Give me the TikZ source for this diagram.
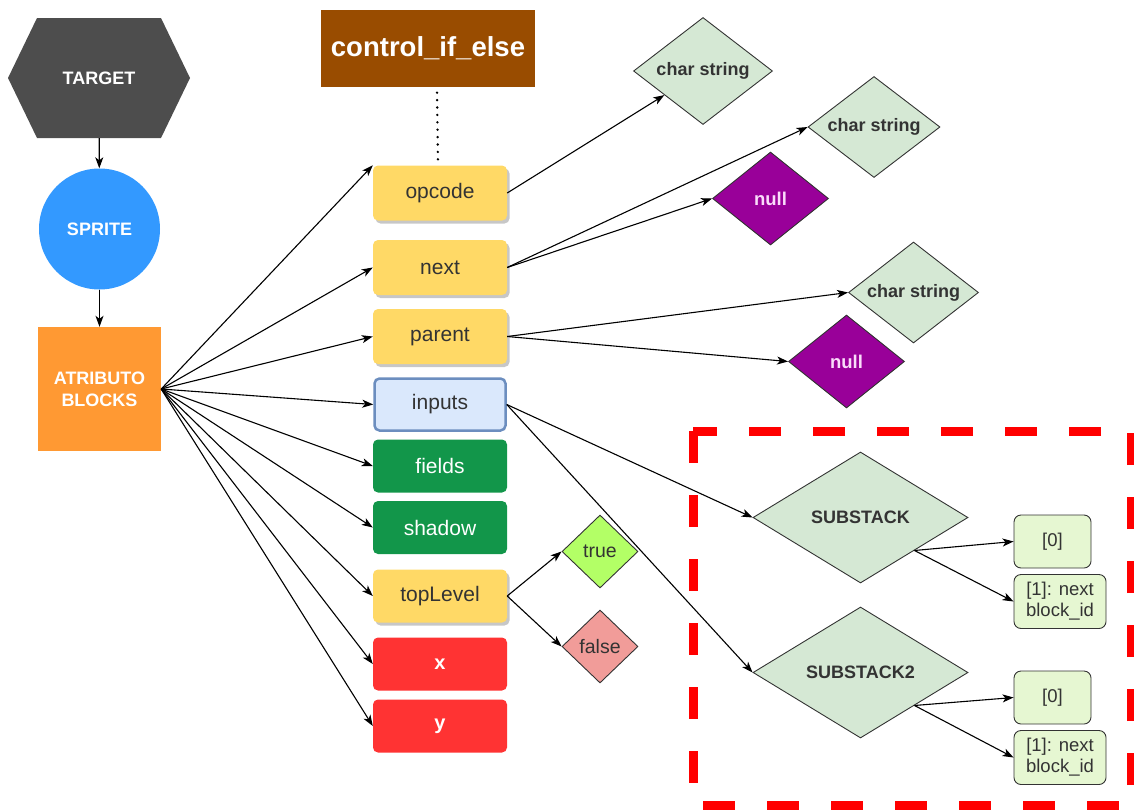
\documentclass[tikz,border=0pt]{standalone}
\usepackage{fontspec}
\setmainfont{Liberation Sans}
\usetikzlibrary{shapes.geometric,arrows.meta,shadows,calc}

\definecolor{hexfill}{HTML}{4D4D4D}
\definecolor{spriteblue}{HTML}{3399FF}
\definecolor{attrorange}{HTML}{FF9933}
\definecolor{ctrlbrown}{HTML}{994C00}
\definecolor{ylw}{HTML}{FFD966}
\definecolor{bluefill}{HTML}{DAE8FC}
\definecolor{bluedraw}{HTML}{6C8EBF}
\definecolor{grn}{HTML}{12964A}
\definecolor{redbox}{HTML}{FF3333}
\definecolor{sage}{HTML}{D5E8D4}
\definecolor{purp}{HTML}{990099}
\definecolor{nulltext}{HTML}{FADCFA}
\definecolor{lime}{HTML}{B3FF66}
\definecolor{rose}{HTML}{F19C99}
\definecolor{leaffill}{HTML}{E6F7D2}
\definecolor{edge}{HTML}{333333}
\definecolor{txt}{HTML}{333333}
\definecolor{dashred}{HTML}{FF0000}

\tikzset{
  field/.style={rectangle, rounded corners=5pt, minimum width=134pt,
    minimum height=53pt, inner sep=0pt, font=\fontsize{21}{25}\selectfont},
  yellowbox/.style={field, fill=ylw, text=txt,
    drop shadow={shadow xshift=2.5pt, shadow yshift=-3pt, fill=black, opacity=0.22}},
  greenbox/.style={field, fill=grn, text=white},
  redfield/.style={field, fill=redbox, text=white, font=\fontsize{20}{24}\selectfont\bfseries},
  bluebox/.style={field, fill=bluefill, draw=bluedraw, line width=2.5pt, text=txt},
  dia/.style={diamond, aspect=1.5, inner sep=0pt, draw=edge, line width=0.9pt},
  strdia/.style={dia, fill=sage, text=txt, font=\fontsize{18}{22}\selectfont\bfseries},
  nulldia/.style={dia, fill=purp, text=nulltext, minimum width=116pt, minimum height=93pt,
    font=\fontsize{18.5}{22}\selectfont\bfseries},
  booldia/.style={dia, text=txt, minimum width=76pt, minimum height=73pt,
    font=\fontsize{19.5}{23}\selectfont},
  leaf/.style={rectangle, rounded corners=7pt, draw=edge, line width=0.9pt, fill=leaffill,
    text=txt, align=center, inner sep=0pt, minimum height=54pt,
    font=\fontsize{18.5}{21}\selectfont},
  link/.style={-{Stealth[length=11pt,width=8pt,inset=3pt]}, line width=1.1pt, black},
}

\begin{document}
\begin{tikzpicture}[x=1pt,y=-1pt]
\useasboundingbox (0,0) rectangle (1134,809);

% ---- hierarchy on the left ----
\fill[hexfill] (8,78) -- (37,18) -- (161,18) -- (190,78) -- (161,138) -- (37,138) -- cycle;
\node[minimum width=182pt, minimum height=120pt, inner sep=0pt, text=white,
  font=\fontsize{18}{21}\selectfont\bfseries] (target) at (99,78) {TARGET};

\node[circle, fill=spriteblue, minimum size=121pt, inner sep=0pt, text=white,
  font=\fontsize{18}{21}\selectfont\bfseries] (sprite) at (99.5,229) {SPRITE};

\node[rectangle, fill=attrorange, minimum width=123pt, minimum height=124pt, inner sep=0pt,
  text=white, align=center, font=\fontsize{18}{22}\selectfont\bfseries]
  (attr) at (99.5,389) {ATRIBUTO\\BLOCKS};

\draw[link] (target) -- (sprite);
\draw[link] (sprite) -- (attr);

% ---- opcode header ----
\node[rectangle, fill=ctrlbrown, minimum width=214pt, minimum height=77pt, inner sep=0pt,
  text=white, font=\fontsize{27.5}{32}\selectfont\bfseries] (ctrl) at (428,48) {control\_if\_else};

% ---- block attributes ----
\node[yellowbox, minimum height=55pt] (opcode) at (440,193)   {opcode};
\node[yellowbox, minimum height=55pt] (next)   at (440,267.5) {next};
\node[yellowbox, minimum height=55pt] (parent) at (440,336.5) {parent};
\node[bluebox,   minimum width=131pt, minimum height=52pt] (inputs) at (440,404.5) {inputs};
\node[greenbox]  (fields)   at (440,466)   {fields};
\node[greenbox]  (shadow)   at (440,527.5) {shadow};
\node[yellowbox] (toplevel) at (440,596)   {topLevel};
\node[redfield]  (nx)       at (440,664)   {x};
\node[redfield]  (ny)       at (440,726)   {y};

\draw[line width=2.6pt, line cap=round, dash pattern=on 0pt off 7.4pt]
  ($(opcode.north |- ctrl.south)+(-3,6)$) -- ($(opcode.north)+(-2,-2)$);

\draw[link] (attr.east) -- (opcode.north west);
\foreach \t in {next,parent,inputs,fields,shadow,toplevel,nx,ny}
  \draw[link] (attr.east) -- (\t.west);

% ---- value types ----
\node[strdia, minimum width=139pt, minimum height=107pt] (cs1) at (703,71)  {char string};
\node[strdia, minimum width=132pt, minimum height=101pt] (cs2) at (874,127) {char string};
\node[nulldia] (null1) at (770.5,198.5) {null};
\node[strdia, minimum width=130pt, minimum height=101pt] (cs3) at (913.5,292.5) {char string};
\node[nulldia] (null2) at (846.5,361.5) {null};

\draw[link] (opcode.east) -- (cs1);
\draw[link] (next.east) -- (cs2.west);
\draw[link] (next.east) -- (null1.west);
\draw[link] (parent.east) -- (cs3.west);
\draw[link] (parent.east) -- (null2.west);

% ---- topLevel values ----
\node[booldia, fill=lime] (ntrue)  at (600,551.5) {true};
\node[booldia, fill=rose] (nfalse) at (600,646.5) {false};
\draw[link] (toplevel.east) -- (ntrue.west);
\draw[link] (toplevel.east) -- (nfalse.west);

% ---- substacks ----
\node[strdia, minimum width=215pt, minimum height=131pt,
  font=\fontsize{18}{22}\selectfont\bfseries] (sub1) at (860.5,517.5) {SUBSTACK};
\node[strdia, minimum width=215pt, minimum height=131pt,
  font=\fontsize{18}{22}\selectfont\bfseries] (sub2) at (860.5,672.5) {SUBSTACK2};

\node[leaf, minimum width=77pt, minimum height=53pt] (z1) at (1052.5,541.5) {[0]};
\node[leaf, minimum width=92pt] (o1) at (1060,601.5) {[1]: next\\block\_id};
\node[leaf, minimum width=77pt, minimum height=53pt] (z2) at (1052.5,697.5) {[0]};
\node[leaf, minimum width=92pt] (o2) at (1060,757.5) {[1]: next\\block\_id};

\draw[link] (inputs.east) -- (sub1.west);
\draw[link] (inputs.east) -- (sub2.west);
\draw[link] (sub1.south east) -- (z1.west);
\draw[link] (sub1.south east) -- (o1.west);
\draw[link] (sub2.south east) -- (z2.west);
\draw[link] (sub2.south east) -- (o2.west);

% ---- highlighted region ----
\draw[dashred, line width=9pt, dash pattern=on 32pt off 32pt] (693,431) rectangle (1131,805);
\end{tikzpicture}
\end{document}
